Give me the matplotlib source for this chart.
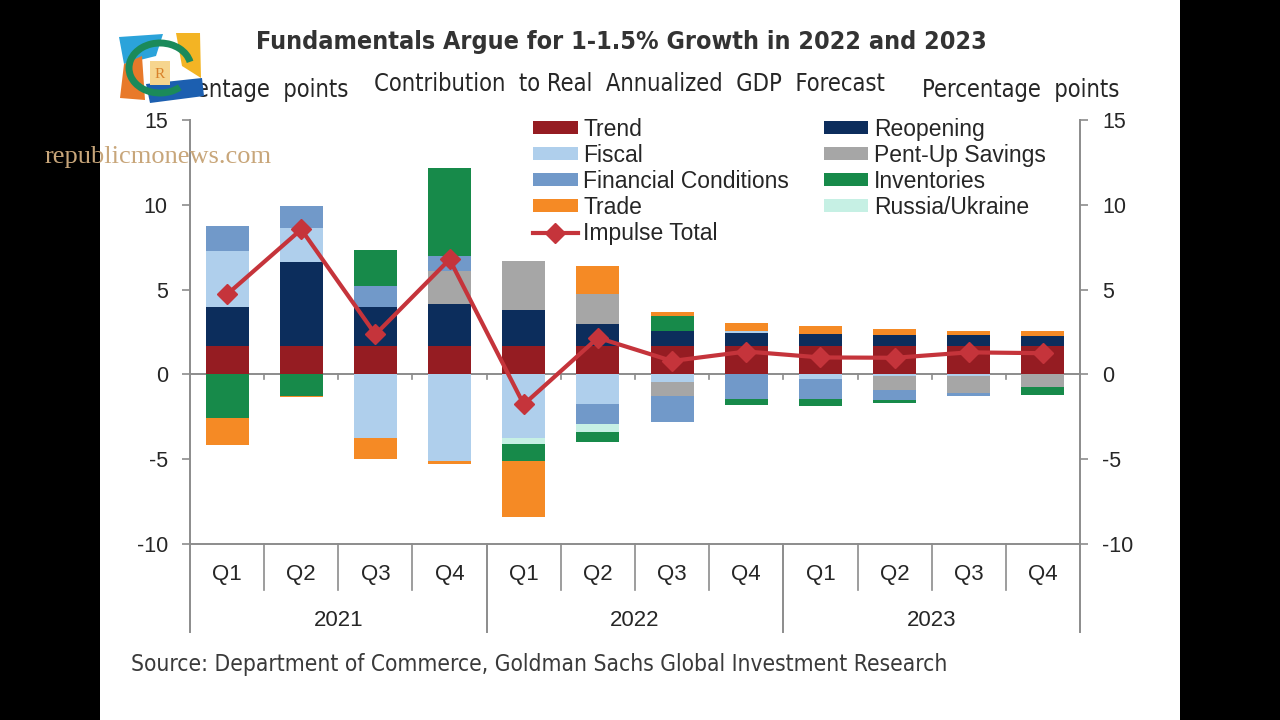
import matplotlib
matplotlib.use("Agg")
import matplotlib.pyplot as plt
from matplotlib.patches import Rectangle, Polygon, Arc
from matplotlib.transforms import blended_transform_factory

# data
quarters = ["Q1", "Q2", "Q3", "Q4"] * 3
years = ["2021", "2022", "2023"]

trend = [1.7, 1.7, 1.7, 1.7, 1.7, 1.7, 1.7, 1.7, 1.7, 1.7, 1.7, 1.7]
reopening = [2.25, 4.95, 2.25, 2.47, 2.12, 1.25, 0.86, 0.76, 0.70, 0.65, 0.60, 0.55]
fiscal = [3.3, 2.0, -3.74, -5.1, -3.75, -1.77, -0.45, 0.1, -0.3, -0.1, -0.1, 0.0]
pent_up = [0.0, 0.0, 0.0, 1.93, 2.86, 1.77, -0.8, 0.0, 0.0, -0.8, -1.0, -0.75]
fin_cond = [1.5, 1.25, 1.26, 0.88, 0.0, -1.18, -1.55, -1.47, -1.15, -0.6, -0.15, 0.0]
russia = [0.0, 0.0, 0.0, 0.0, -0.35, -0.45, 0.0, 0.0, 0.0, 0.0, 0.0, 0.0]
inventories = [-2.55, -1.28, 2.12, 5.2, -1.0, -0.6, 0.88, -0.36, -0.39, -0.2, 0.0, -0.45]
trade = [-1.6, -0.07, -1.26, -0.2, -3.3, 1.67, 0.24, 0.5, 0.45, 0.3, 0.25, 0.3]
impulse = [4.72, 8.55, 2.36, 6.78, -1.77, 2.16, 0.79, 1.35, 1.0, 0.98, 1.3, 1.25]

series = [
    ("Trend", trend, "#951C22"),
    ("Reopening", reopening, "#0C2D5C"),
    ("Fiscal", fiscal, "#AFCFEC"),
    ("Pent-Up Savings", pent_up, "#A6A6A6"),
    ("Financial Conditions", fin_cond, "#7199C9"),
    ("Russia/Ukraine", russia, "#C6F0E4"),
    ("Inventories", inventories, "#178A4A"),
    ("Trade", trade, "#F58A25"),
]
legend_order = ["Trend", "Fiscal", "Financial Conditions", "Trade", "Impulse Total",
                "Reopening", "Pent-Up Savings", "Inventories", "Russia/Ukraine"]

W, H = 1280, 720
def fx(px):
    return px / W
def fy(py):
    return 1 - py / H

plt.rcParams["font.family"] = ["Liberation Sans", "DejaVu Sans"]
plt.rcParams["axes.unicode_minus"] = False
grey_txt = "#262626"
axis_col = "#8C8C8C"

fig = plt.figure(figsize=(12.8, 7.2), dpi=100, facecolor="black")
fig.patches.append(Rectangle((fx(100), 0), fx(1180) - fx(100), 1, transform=fig.transFigure,
                             facecolor="white", edgecolor="none", zorder=-5))

ax = fig.add_axes([fx(190), fy(544), fx(1080) - fx(190), fy(120) - fy(544)])
ax.set_facecolor("none")
x = list(range(len(quarters)))

handles = {}
pos_base = [0.0] * len(x)
neg_base = [0.0] * len(x)
for name, vals, col in series:
    bottoms = []
    for i, v in enumerate(vals):
        if v >= 0:
            bottoms.append(pos_base[i])
            pos_base[i] += v
        else:
            bottoms.append(neg_base[i])
            neg_base[i] += v
    handles[name] = ax.bar(x, vals, bottom=bottoms, width=0.58, color=col, zorder=2)

line, = ax.plot(x, impulse, color="#C5343B", lw=3, marker="D", markersize=10,
                markeredgecolor="#C5343B", zorder=4)
handles["Impulse Total"] = line

ax.set_xlim(-0.5, 11.5)
ax.set_ylim(-10, 15)
ax.axhline(0, color=axis_col, lw=1.4, zorder=1)

ax.spines["top"].set_visible(False)
for s in ["left", "right", "bottom"]:
    ax.spines[s].set_color(axis_col)
    ax.spines[s].set_linewidth(1.4)

ax.set_xticks([])
ax.set_yticks([-10, -5, 0, 5, 10, 15])
ax.tick_params(axis="y", colors=axis_col, labelcolor=grey_txt, labelsize=15.5,
               length=6, width=1.2, pad=10, left=True, right=True,
               labelleft=True, labelright=True)

# category axis below
tr = blended_transform_factory(ax.transData, ax.transAxes)
for b in [i + 0.5 for i in range(11)]:
    ax.plot([b, b], [0, -0.3], color=axis_col, lw=1.2, zorder=1)
    if (b + 0.5) % 4 != 0:
        ax.plot([b, b], [0, -0.108], transform=tr, color=axis_col, lw=1.2, clip_on=False)
for b in [-0.5, 3.5, 7.5, 11.5]:
    ax.plot([b, b], [0, -0.208], transform=tr, color=axis_col, lw=1.4, clip_on=False)
for i, q in enumerate(quarters):
    ax.text(i, -0.072, q, transform=tr, ha="center", va="center", fontsize=16, color=grey_txt)
for j, yr in enumerate(years):
    ax.text(4 * j + 1.5, -0.18, yr, transform=tr, ha="center", va="center", fontsize=16,
            color=grey_txt)

leg = ax.legend([handles[n] for n in legend_order], legend_order, ncol=2, frameon=False,
                loc="upper left", bbox_to_anchor=(fx(533), fy(118)),
                bbox_transform=fig.transFigure, fontsize=16.5, handlelength=1.95,
                handleheight=0.5, handletextpad=0.25, columnspacing=1.5,
                labelspacing=0.13, borderaxespad=0, borderpad=0)
for t in leg.get_texts():
    t.set_color(grey_txt)

# titles and labels
fig.text(fx(621), fy(42), "Fundamentals Argue for 1-1.5% Growth in 2022 and 2023",
         ha="center", va="center", fontsize=18, fontweight="bold", fontstretch="condensed",
         family="DejaVu Sans", color="#333333")
fig.text(fx(629), fy(84), "Contribution  to Real  Annualized  GDP  Forecast", ha="center",
         va="center", fontsize=17, fontstretch="condensed", family="DejaVu Sans",
         color=grey_txt)
fig.text(fx(348), fy(90), "Percentage  points", ha="right", va="center", fontsize=17,
         fontstretch="condensed", family="DejaVu Sans", color=grey_txt)
fig.text(fx(922), fy(90), "Percentage  points", ha="left", va="center", fontsize=17,
         fontstretch="condensed", family="DejaVu Sans", color=grey_txt)
fig.text(fx(131), fy(664), "Source: Department of Commerce, Goldman Sachs Global Investment Research",
         ha="left", va="center", fontsize=16.3, fontstretch="condensed", family="DejaVu Sans",
         color="#3A3A3A")

# watermark
fig.text(fx(45), fy(157), "republicmonews.com", ha="left", va="center", fontsize=19,
         family=["Liberation Serif", "DejaVu Serif"], color="#C8A67A", zorder=5)

def poly(pts, col):
    fig.patches.append(Polygon([(fx(a), fy(b)) for a, b in pts], closed=True,
                               transform=fig.transFigure, facecolor=col, edgecolor="none",
                               zorder=6))

poly([(119, 37), (163, 34), (156, 56), (124, 64)], "#2BA3DA")
poly([(176, 33), (200, 33), (201, 78), (182, 66)], "#F3B424")
poly([(124, 64), (142, 56), (145, 100), (120, 98)], "#E8792A")
poly([(146, 84), (202, 78), (204, 96), (150, 103)], "#1C5FB0")
fig.patches.append(Arc((fx(160), fy(68)), fx(62) - fx(0), fy(0) - fy(50), angle=0,
                       theta1=20, theta2=300, transform=fig.transFigure, color="#1B8A5A",
                       lw=5, zorder=7))
fig.patches.append(Rectangle((fx(150), fy(85)), fx(20), fy(0) - fy(24),
                             transform=fig.transFigure, facecolor="#F6D58E",
                             edgecolor="none", zorder=7))
fig.text(fx(160), fy(74), "R", ha="center", va="center", fontsize=11,
         family=["Liberation Serif", "DejaVu Serif"], color="#D9822B", zorder=8)

fig.savefig("out.png", dpi=100, facecolor="black")
